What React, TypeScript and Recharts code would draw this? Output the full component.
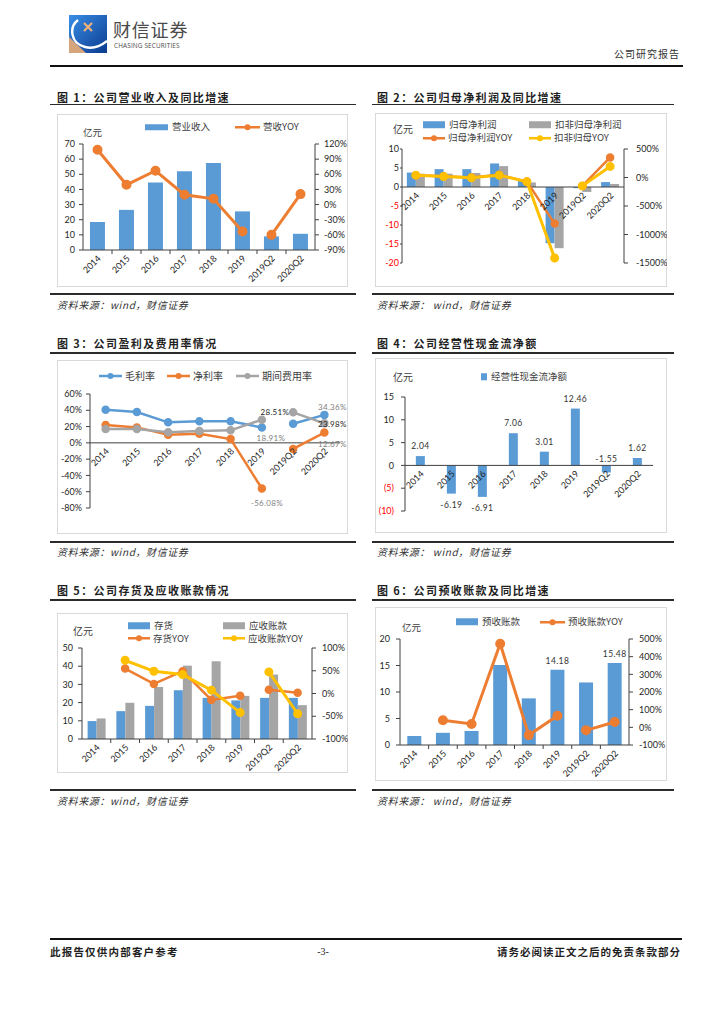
import React from "react";
import { Bar, ComposedChart, LabelList, Line, ReferenceLine, XAxis, YAxis } from "recharts";

// categories shared by all six charts
const periods = ["2014", "2015", "2016", "2017", "2018", "2019", "2019Q2", "2020Q2"];

// 图1 营业收入 (亿元) / 营收YOY (%)
const revenue = [18.5, 26.5, 44.5, 52, 57.5, 25.5, 9, 10.7];
const revenueYoy = [108.7, 39.2, 67, 19.3, 11.4, -53.5, -60, 20.7];
const revenueTicks = [0, 10, 20, 30, 40, 50, 60, 70];
const revenueYoyTicks = [-90, -60, -30, 0, 30, 60, 90, 120];

// 图2 归母净利润 / 扣非归母净利润 (亿元) and YOY (%)
const netProfit = [3.8, 4.7, 4.7, 6.2, 1.8, -14.8, -0.3, 1.3];
const deductedProfit = [3.5, 3.5, 3.7, 5.5, 1.2, -16.1, -1.3, 0.8];
const netProfitYoy = [40, 24, 0, 47, -70, -809, -147, 352];
const deductedYoy = [41, 18, -6, 41, -76, -1413, -147, 194];
const profitTicks = [-20, -15, -10, -5, 0, 5, 10];
const profitYoyTicks = [-1500, -1000, -500, 0, 500];

// 图3 毛利率 / 净利率 / 期间费用率 (%)
const grossMargin = [40.7, 37.9, 25.2, 26.4, 26.4, 18.91, 23.5, 34.36];
const netMargin = [21.9, 19, 10, 11.3, 4.7, -56.08, -7.5, 12.67];
const expenseRate = [17, 17, 12.9, 14.6, 15.4, 28.51, 37.5, 23.98];
const marginTicks = [-80, -60, -40, -20, 0, 20, 40, 60];

// 图4 经营性现金流净额 (亿元)
const operatingCash = [2.04, -6.19, -6.91, 7.06, 3.01, 12.46, -1.55, 1.62];
const cashTicks = [-10, -5, 0, 5, 10, 15];

// 图5 存货 / 应收账款 (亿元) and YOY (%)
const inventory = [9.85, 15.3, 18.2, 26.8, 22.6, 21.2, 22.6, 22.6];
const receivables = [11.3, 19.9, 28.6, 40.3, 42.7, 23.7, 35.4, 18.6];
const inventoryYoy = [null, 54.7, 21, 49, -14, -5, 8, 1.5];
const receivablesYoy = [null, 73, 49, 41.6, 7.3, -42, 47.4, -44.5];
const stockTicks = [0, 10, 20, 30, 40, 50];
const stockYoyTicks = [-100, -50, 0, 50, 100];

// 图6 预收账款 (亿元) / 预收账款YOY (%)
const advances = [1.7, 2.3, 2.65, 15.1, 8.8, 14.18, 11.8, 15.48];
const advancesYoy = [null, 40, 19, 473, -44, 66, -17, 30];
const advanceTicks = [0, 5, 10, 15, 20];
const advanceYoyTicks = [-100, 0, 100, 200, 300, 400, 500];

const AXIS = "#404040";
const INK = "#1f1f1f";
const LEGEND_INK = "#404040";
const BLUE = "#5b9bd5";
const ORANGE = "#ed7d31";
const GRAY = "#a5a5a5";
const YELLOW = "#ffc000";
const RED = "#ff0000";
const NUM_FONT = 'Lato, "Noto Sans CJK SC", sans-serif';
const CJK_FONT = '"Noto Sans CJK SC", sans-serif';

// yearly points and quarterly points are not joined in the source charts
const annual = (arr: (number | null)[], i: number) => (i < 6 ? arr[i] : null);
const quarter = (arr: (number | null)[], i: number) => (i >= 6 ? arr[i] : null);

const revenueRows = periods.map((name, i) => ({
  name,
  revenue: revenue[i],
  yoyA: annual(revenueYoy, i),
  yoyQ: quarter(revenueYoy, i)
}));

const profitRows = periods.map((name, i) => ({
  name,
  net: netProfit[i],
  deducted: deductedProfit[i],
  netYoyA: annual(netProfitYoy, i),
  netYoyQ: quarter(netProfitYoy, i),
  dedYoyA: annual(deductedYoy, i),
  dedYoyQ: quarter(deductedYoy, i)
}));

const marginRows = periods.map((name, i) => ({
  name,
  grossA: annual(grossMargin, i),
  grossQ: quarter(grossMargin, i),
  netA: annual(netMargin, i),
  netQ: quarter(netMargin, i),
  expA: annual(expenseRate, i),
  expQ: quarter(expenseRate, i)
}));

const cashRows = periods.map((name, i) => ({ name, cash: operatingCash[i] }));

const stockRows = periods.map((name, i) => ({
  name,
  inventory: inventory[i],
  receivables: receivables[i],
  invYoyA: annual(inventoryYoy, i),
  invYoyQ: quarter(inventoryYoy, i),
  recYoyA: annual(receivablesYoy, i),
  recYoyQ: quarter(receivablesYoy, i)
}));

const advanceRows = periods.map((name, i) => ({
  name,
  adv: advances[i],
  yoyA: annual(advancesYoy, i),
  yoyQ: quarter(advancesYoy, i)
}));

const pct = (v: number) => `${v}%`;
const plain = (v: number) => `${v}`;
const paren = (v: number) => (v < 0 ? `(${-v})` : `${v}`);

function SlantTick(props: any) {
  const { x, y, payload, index, shift = 0, band = 0, marks = false } = props;
  const ty = y + shift;
  const ax = x + 4;
  const ay = ty + 9;
  return (
    <g>
      {marks && index > 0 ? (
        <line x1={x - band / 2} x2={x - band / 2} y1={ty} y2={ty + 4} stroke={AXIS} />
      ) : null}
      <text
        x={ax}
        y={ay}
        textAnchor="end"
        transform={`rotate(-45 ${ax} ${ay})`}
        fontSize={9}
        fill={INK}
        fontFamily={NUM_FONT}
      >
        {payload.value}
      </text>
    </g>
  );
}

function ValueTick(props: any) {
  const { x, y, payload, textAnchor, fmt = plain, redNeg = false } = props;
  const v = payload.value;
  return (
    <text
      x={x}
      y={y}
      dy={3.2}
      textAnchor={textAnchor}
      fontSize={9}
      fill={redNeg && v < 0 ? RED : INK}
      fontFamily={NUM_FONT}
    >
      {fmt(v)}
    </text>
  );
}

function Txt({
  x,
  y,
  size = 10,
  color = INK,
  weight = 400,
  italic = false,
  spacing = 0,
  anchor = "start",
  font = CJK_FONT,
  children
}: any) {
  const tx = anchor === "middle" ? "-50%" : anchor === "end" ? "-100%" : "0";
  return (
    <div
      style={{
        position: "absolute",
        left: x,
        top: y,
        transform: `translate(${tx}, -50%)`,
        fontSize: size,
        lineHeight: 1,
        color,
        fontWeight: weight,
        fontStyle: italic ? "italic" : "normal",
        letterSpacing: spacing,
        whiteSpace: "nowrap",
        fontFamily: font
      }}
    >
      {children}
    </div>
  );
}

function Rule({ x, y, w, h = 1.5, color = "#2b2b2b" }: any) {
  return <div style={{ position: "absolute", left: x, top: y - h / 2, width: w, height: h, background: color }} />;
}

function KeyRect({ x, y, color, label, w = 22, h = 7, size = 9.5 }: any) {
  return (
    <div style={{ position: "absolute", left: x, top: y, transform: "translateY(-50%)", display: "flex", alignItems: "center" }}>
      <div style={{ width: w, height: h, background: color }} />
      <span style={{ marginLeft: 4, fontSize: size, lineHeight: 1, color: LEGEND_INK, fontFamily: CJK_FONT, whiteSpace: "nowrap" }}>
        {label}
      </span>
    </div>
  );
}

function KeyLine({ x, y, color, label, w = 23, size = 9.5 }: any) {
  return (
    <div style={{ position: "absolute", left: x, top: y, transform: "translateY(-50%)", display: "flex", alignItems: "center" }}>
      <svg width={w} height={8} style={{ display: "block" }}>
        <line x1={0} x2={w} y1={4} y2={4} stroke={color} strokeWidth={2.5} />
        <circle cx={w / 2} cy={4} r={3} fill={color} />
      </svg>
      <span style={{ marginLeft: 3, fontSize: size, lineHeight: 1, color: LEGEND_INK, fontFamily: CJK_FONT, whiteSpace: "nowrap" }}>
        {label}
      </span>
    </div>
  );
}

function Box({ x, y, w, h, children }: any) {
  return (
    <div style={{ position: "absolute", left: x, top: y, width: w, height: h }}>
      <div style={{ position: "absolute", inset: 0, border: "1px solid #d9d9d9", boxSizing: "border-box" }} />
      <div style={{ position: "absolute", left: 0, top: 0 }}>{children}</div>
    </div>
  );
}

function Frame({ left, titleY, underY, bottomY, sourceY, title, source }: any) {
  const lineX = left ? 50 : 372;
  const lineW = left ? 306 : 302;
  const textX = left ? 57 : 377;
  return (
    <>
      <Txt x={textX} y={titleY} size={11} weight={700} spacing={1.4}>
        {title}
      </Txt>
      <Rule x={lineX} y={underY} w={lineW} />
      <Rule x={lineX} y={bottomY} w={lineW} />
      <Txt x={textX} y={sourceY} size={10} italic spacing={0.6} color="#333">
        {source}
      </Txt>
    </>
  );
}

const yAxisStyle = {
  axisLine: { stroke: AXIS },
  tickLine: { stroke: AXIS },
  tickSize: 4,
  interval: 0 as const
};

function RevenueChart() {
  return (
    <ComposedChart width={291} height={173} data={revenueRows} margin={{ top: 30, right: 0, bottom: 0, left: 0 }} barCategoryGap="24%">
      <XAxis
        dataKey="name"
        height={37}
        interval={0}
        tickLine={false}
        tickSize={0}
        tickMargin={0}
        axisLine={{ stroke: AXIS }}
        tick={(p: any) => <SlantTick {...p} band={29} marks />}
      />
      <YAxis yAxisId="l" width={26} domain={[0, 70]} ticks={revenueTicks} tickMargin={4} {...yAxisStyle} tick={(p: any) => <ValueTick {...p} />} />
      <YAxis
        yAxisId="r"
        orientation="right"
        width={33}
        domain={[-90, 120]}
        ticks={revenueYoyTicks}
        tickMargin={5}
        {...yAxisStyle}
        tick={(p: any) => <ValueTick {...p} fmt={pct} />}
      />
      <Bar yAxisId="l" dataKey="revenue" fill={BLUE} isAnimationActive={false} />
      <Line yAxisId="r" dataKey="yoyA" stroke={ORANGE} strokeWidth={3} dot={{ r: 3.5, fill: ORANGE, stroke: ORANGE }} isAnimationActive={false} />
      <Line yAxisId="r" dataKey="yoyQ" stroke={ORANGE} strokeWidth={3} dot={{ r: 3.5, fill: ORANGE, stroke: ORANGE }} isAnimationActive={false} />
    </ComposedChart>
  );
}

function ProfitChart() {
  return (
    <ComposedChart width={292} height={174} data={profitRows} margin={{ top: 36, right: 0, bottom: 0, left: 0 }} barCategoryGap="17.5%" barGap={0}>
      <XAxis
        dataKey="name"
        height={24}
        interval={0}
        tickLine={false}
        tickSize={0}
        tickMargin={0}
        axisLine={false}
        tick={(p: any) => <SlantTick {...p} shift={-76} />}
      />
      <YAxis
        yAxisId="l"
        width={27}
        domain={[-20, 10]}
        ticks={profitTicks}
        tickMargin={1}
        {...yAxisStyle}
        tickSize={2}
        tick={(p: any) => <ValueTick {...p} redNeg />}
      />
      <YAxis
        yAxisId="r"
        orientation="right"
        width={43}
        domain={[-1500, 500]}
        ticks={profitYoyTicks}
        tickMargin={8}
        {...yAxisStyle}
        tick={(p: any) => <ValueTick {...p} fmt={pct} />}
      />
      <Bar yAxisId="l" dataKey="net" fill={BLUE} isAnimationActive={false} />
      <Bar yAxisId="l" dataKey="deducted" fill={GRAY} isAnimationActive={false} />
      <ReferenceLine yAxisId="l" y={0} stroke={AXIS} />
      <Line yAxisId="r" dataKey="netYoyA" stroke={ORANGE} strokeWidth={2.5} dot={{ r: 3, fill: ORANGE, stroke: ORANGE }} isAnimationActive={false} />
      <Line yAxisId="r" dataKey="netYoyQ" stroke={ORANGE} strokeWidth={2.5} dot={{ r: 3, fill: ORANGE, stroke: ORANGE }} isAnimationActive={false} />
      <Line yAxisId="r" dataKey="dedYoyA" stroke={YELLOW} strokeWidth={3} dot={{ r: 3, fill: YELLOW, stroke: YELLOW }} isAnimationActive={false} />
      <Line yAxisId="r" dataKey="dedYoyQ" stroke={YELLOW} strokeWidth={3} dot={{ r: 3, fill: YELLOW, stroke: YELLOW }} isAnimationActive={false} />
    </ComposedChart>
  );
}

// one highlighted data label per line segment in 图3
function pointLabel(target: number, dx: number, dy: number, color: string) {
  return (p: any) => {
    if (p.index !== target || p.value == null) return null;
    return (
      <text
        x={p.x + dx}
        y={p.y + dy}
        dy={3}
        textAnchor="middle"
        fontSize={8}
        letterSpacing={0.3}
        fill={color}
        fontFamily={NUM_FONT}
      >
        {`${p.value.toFixed(2)}%`}
      </text>
    );
  };
}

function MarginChart() {
  const dot = (c: string) => ({ r: 3, fill: c, stroke: c });
  return (
    <ComposedChart width={291} height={174} data={marginRows} margin={{ top: 34, right: 8, bottom: 0, left: 0 }}>
      <XAxis
        dataKey="name"
        scale="band"
        height={26}
        interval={0}
        tickLine={false}
        tickSize={0}
        tickMargin={0}
        axisLine={false}
        tick={(p: any) => <SlantTick {...p} shift={-65.1} />}
      />
      <YAxis width={33} domain={[-80, 60]} ticks={marginTicks} tickMargin={4} {...yAxisStyle} tick={(p: any) => <ValueTick {...p} fmt={pct} />} />
      <ReferenceLine y={0} stroke={AXIS} />
      <Line dataKey="grossA" stroke={BLUE} strokeWidth={2.5} dot={dot(BLUE)} isAnimationActive={false}>
        <LabelList dataKey="grossA" content={pointLabel(5, 9, 11, "#808080")} />
      </Line>
      <Line dataKey="grossQ" stroke={BLUE} strokeWidth={2.5} dot={dot(BLUE)} isAnimationActive={false}>
        <LabelList dataKey="grossQ" content={pointLabel(7, 8, -8, "#808080")} />
      </Line>
      <Line dataKey="netA" stroke={ORANGE} strokeWidth={2.5} dot={dot(ORANGE)} isAnimationActive={false}>
        <LabelList dataKey="netA" content={pointLabel(5, 5, 14, "#808080")} />
      </Line>
      <Line dataKey="netQ" stroke={ORANGE} strokeWidth={2.5} dot={dot(ORANGE)} isAnimationActive={false}>
        <LabelList dataKey="netQ" content={pointLabel(7, 8, 11, "#808080")} />
      </Line>
      <Line dataKey="expA" stroke={GRAY} strokeWidth={2.5} dot={dot(GRAY)} isAnimationActive={false}>
        <LabelList dataKey="expA" content={pointLabel(5, 13, -8, "#262626")} />
      </Line>
      <Line dataKey="expQ" stroke={GRAY} strokeWidth={2.5} dot={dot(GRAY)} isAnimationActive={false}>
        <LabelList dataKey="expQ" content={pointLabel(7, 8, 1, "#262626")} />
      </Line>
    </ComposedChart>
  );
}

// short negative bars keep their label just above the zero line, as in the source
function cashLabel(p: any) {
  const top = Math.min(p.y, p.y + p.height);
  const bottom = Math.max(p.y, p.y + p.height);
  const cx = p.x + p.width / 2;
  let ly = top - 10;
  if (p.value < 0) ly = p.value > -3 ? top - 6 : bottom + 11;
  return (
    <text x={cx} y={ly} dy={3} textAnchor="middle" fontSize={8.5} letterSpacing={0.4} fill="#333" fontFamily={NUM_FONT}>
      {p.value.toFixed(2)}
    </text>
  );
}

function CashChart() {
  return (
    <ComposedChart width={292} height={175} data={cashRows} margin={{ top: 39, right: 14, bottom: 0, left: 0 }} barCategoryGap="35%">
      <XAxis
        dataKey="name"
        height={22}
        interval={0}
        tickLine={false}
        tickSize={0}
        tickMargin={0}
        axisLine={false}
        tick={(p: any) => <SlantTick {...p} shift={-45.6} />}
      />
      <YAxis
        width={30}
        domain={[-10, 15]}
        ticks={cashTicks}
        tickMargin={7}
        {...yAxisStyle}
        tick={(p: any) => <ValueTick {...p} fmt={paren} redNeg />}
      />
      <Bar dataKey="cash" fill={BLUE} isAnimationActive={false}>
        <LabelList dataKey="cash" content={cashLabel} />
      </Bar>
      <ReferenceLine y={0} stroke={AXIS} />
    </ComposedChart>
  );
}

function StockChart() {
  return (
    <ComposedChart width={291} height={160} data={stockRows} margin={{ top: 35, right: 0, bottom: 0, left: 0 }} barCategoryGap="19.5%" barGap={0}>
      <XAxis
        dataKey="name"
        height={34}
        interval={0}
        tickLine={false}
        tickSize={0}
        tickMargin={0}
        axisLine={{ stroke: AXIS }}
        tick={(p: any) => <SlantTick {...p} band={28.75} marks />}
      />
      <YAxis yAxisId="l" width={25} domain={[0, 50]} ticks={stockTicks} tickMargin={5} {...yAxisStyle} tick={(p: any) => <ValueTick {...p} />} />
      <YAxis
        yAxisId="r"
        orientation="right"
        width={36}
        domain={[-100, 100]}
        ticks={stockYoyTicks}
        tickMargin={6}
        {...yAxisStyle}
        tick={(p: any) => <ValueTick {...p} fmt={pct} />}
      />
      <Bar yAxisId="l" dataKey="inventory" fill={BLUE} isAnimationActive={false} />
      <Bar yAxisId="l" dataKey="receivables" fill={GRAY} isAnimationActive={false} />
      <Line yAxisId="r" dataKey="invYoyA" stroke={ORANGE} strokeWidth={2.5} dot={{ r: 3, fill: ORANGE, stroke: ORANGE }} isAnimationActive={false} />
      <Line yAxisId="r" dataKey="invYoyQ" stroke={ORANGE} strokeWidth={2.5} dot={{ r: 3, fill: ORANGE, stroke: ORANGE }} isAnimationActive={false} />
      <Line yAxisId="r" dataKey="recYoyA" stroke={YELLOW} strokeWidth={3} dot={{ r: 3, fill: YELLOW, stroke: YELLOW }} isAnimationActive={false} />
      <Line yAxisId="r" dataKey="recYoyQ" stroke={YELLOW} strokeWidth={3} dot={{ r: 3, fill: YELLOW, stroke: YELLOW }} isAnimationActive={false} />
    </ComposedChart>
  );
}

function advanceLabel(p: any) {
  if (p.index !== 5 && p.index !== 7) return null;
  return (
    <text x={p.x + p.width / 2} y={p.y - 9} dy={3} textAnchor="middle" fontSize={8.5} letterSpacing={0.4} fill="#333" fontFamily={NUM_FONT}>
      {p.value.toFixed(2)}
    </text>
  );
}

function AdvanceChart() {
  return (
    <ComposedChart width={292} height={174} data={advanceRows} margin={{ top: 32, right: 0, bottom: 0, left: 0 }} barCategoryGap="25.5%">
      <XAxis
        dataKey="name"
        height={36}
        interval={0}
        tickLine={false}
        tickSize={0}
        tickMargin={0}
        axisLine={{ stroke: AXIS }}
        tick={(p: any) => <SlantTick {...p} band={28.6} marks />}
      />
      <YAxis yAxisId="l" width={25} domain={[0, 20]} ticks={advanceTicks} tickMargin={6} {...yAxisStyle} tick={(p: any) => <ValueTick {...p} />} />
      <YAxis
        yAxisId="r"
        orientation="right"
        width={38}
        domain={[-100, 500]}
        ticks={advanceYoyTicks}
        tickMargin={6}
        {...yAxisStyle}
        tick={(p: any) => <ValueTick {...p} fmt={pct} />}
      />
      <Bar yAxisId="l" dataKey="adv" fill={BLUE} isAnimationActive={false}>
        <LabelList dataKey="adv" content={advanceLabel} />
      </Bar>
      <Line yAxisId="r" dataKey="yoyA" stroke={ORANGE} strokeWidth={3} dot={{ r: 3.5, fill: ORANGE, stroke: ORANGE }} isAnimationActive={false} />
      <Line yAxisId="r" dataKey="yoyQ" stroke={ORANGE} strokeWidth={3} dot={{ r: 3.5, fill: ORANGE, stroke: ORANGE }} isAnimationActive={false} />
    </ComposedChart>
  );
}

function Logo() {
  return (
    <svg style={{ position: "absolute", left: 69, top: 15 }} width={38} height={38} viewBox="0 0 38 38">
      <defs>
        <linearGradient id="logoBlue" x1="0" y1="0" x2="1" y2="1">
          <stop offset="0" stopColor="#3a8ee6" />
          <stop offset="1" stopColor="#0b3b8f" />
        </linearGradient>
      </defs>
      <rect width={38} height={38} fill="url(#logoBlue)" />
      <path d="M0 22 L0 38 L17 38 Z" fill="#d7a57c" />
      <path d="M9 5 C0 12 1 28 16 32 C24 34 32 31 38 26" stroke="#ffffff" strokeWidth={2.4} fill="none" />
      <path d="M15 8 L23 16 M23 8 L15 16" stroke="#f0b07a" strokeWidth={2.2} />
    </svg>
  );
}

export default function App() {
  return (
    <div
      style={{
        position: "absolute",
        left: 0,
        top: 0,
        width: 724,
        height: 1024,
        background: "#fff",
        overflow: "hidden",
        fontFamily: CJK_FONT
      }}
    >
      {/* header */}
      <Logo />
      <Txt x={113} y={29} size={18} color="#4a4a4a" spacing={0.8}>
        财信证券
      </Txt>
      <Txt x={114} y={46} size={6.4} color="#4a4a4a" font='"Open Sans", sans-serif' spacing={0.15}>
        CHASING SECURITIES
      </Txt>
      <Txt x={680} y={54} size={10} anchor="end" spacing={1} color="#333">
        公司研究报告
      </Txt>
      <Rule x={50} y={66} w={633} h={1.6} color="#111" />

      {/* 图1 */}
      <Frame left titleY={97} underY={104.5} bottomY={294} sourceY={305} title="图 1：公司营业收入及同比增速" source="资料来源：wind，财信证券" />
      <Box x={57} y={114} w={291} h={173}>
        <RevenueChart />
      </Box>
      <KeyRect x={145} y={127} color={BLUE} label="营业收入" w={23} h={6} />
      <KeyLine x={235} y={127} color={ORANGE} label="营收YOY" w={25} />
      <Txt x={83} y={133} size={9.5} color={LEGEND_INK}>
        亿元
      </Txt>

      {/* 图2 */}
      <Frame titleY={97} underY={104.5} bottomY={294} sourceY={305} title="图 2：公司归母净利润及同比增速" source="资料来源：  wind，财信证券" />
      <Box x={375} y={113} w={292} h={174}>
        <ProfitChart />
      </Box>
      <KeyRect x={423} y={124.5} color={BLUE} label="归母净利润" size={9.5} />
      <KeyRect x={529} y={124.5} color={GRAY} label="扣非归母净利润" size={9.5} />
      <KeyLine x={423} y={138} color={ORANGE} label="归母净利润YOY" size={9.5} w={22} />
      <KeyLine x={529} y={138} color={YELLOW} label="扣非归母YOY" size={9.5} w={22} />
      <Txt x={393} y={129} size={10} color={LEGEND_INK}>
        亿元
      </Txt>

      {/* 图3 */}
      <Frame left titleY={343} underY={353} bottomY={542} sourceY={552} title="图 3：公司盈利及费用率情况" source="资料来源：wind，财信证券" />
      <Box x={57} y={360} w={291} h={174}>
        <MarginChart />
      </Box>
      <KeyLine x={99} y={376} color={BLUE} label="毛利率" size={10} />
      <KeyLine x={167} y={376} color={ORANGE} label="净利率" size={10} />
      <KeyLine x={236} y={376} color={GRAY} label="期间费用率" size={10} />

      {/* 图4 */}
      <Frame titleY={343} underY={353} bottomY={542} sourceY={552} title="图 4：公司经营性现金流净额" source="资料来源：  wind，财信证券" />
      <Box x={375} y={358} w={292} h={175}>
        <CashChart />
      </Box>
      <KeyRect x={481} y={377} color={BLUE} label="经营性现金流净额" w={6} h={7} size={9.5} />
      <Txt x={393} y={377} size={10} color={LEGEND_INK}>
        亿元
      </Txt>

      {/* 图5 */}
      <Frame left titleY={590} underY={600} bottomY={790} sourceY={801} title="图 5：公司存货及应收账款情况" source="资料来源：wind，财信证券" />
      <Box x={57} y={613} w={291} h={160}>
        <StockChart />
      </Box>
      <KeyRect x={128} y={625.5} color={BLUE} label="存货" size={9.5} />
      <KeyRect x={223} y={625.5} color={GRAY} label="应收账款" size={9.5} />
      <KeyLine x={128} y={638.5} color={ORANGE} label="存货YOY" size={9.5} w={22} />
      <KeyLine x={223} y={638.5} color={YELLOW} label="应收账款YOY" size={9.5} w={22} />
      <Txt x={73} y={631} size={10} color={LEGEND_INK}>
        亿元
      </Txt>

      {/* 图6 */}
      <Frame titleY={590} underY={600} bottomY={790} sourceY={801} title="图 6：公司预收账款及同比增速" source="资料来源：  wind，财信证券" />
      <Box x={375} y={607} w={292} h={174}>
        <AdvanceChart />
      </Box>
      <KeyRect x={456} y={622} color={BLUE} label="预收账款" size={9.5} />
      <KeyLine x={540} y={622} color={ORANGE} label="预收账款YOY" size={9.5} w={25} />
      <Txt x={402} y={628} size={9.5} color={LEGEND_INK}>
        亿元
      </Txt>

      {/* footer */}
      <Rule x={50} y={939} w={632} h={1.6} color="#111" />
      <Txt x={50} y={952} size={10.5} weight={700} spacing={1.2}>
        此报告仅供内部客户参考
      </Txt>
      <Txt x={323} y={952} size={10} anchor="middle" font='"Liberation Serif", serif'>
        -3-
      </Txt>
      <Txt x={681} y={952} size={10.5} weight={700} spacing={1} anchor="end">
        请务必阅读正文之后的免责条款部分
      </Txt>
    </div>
  );
}
